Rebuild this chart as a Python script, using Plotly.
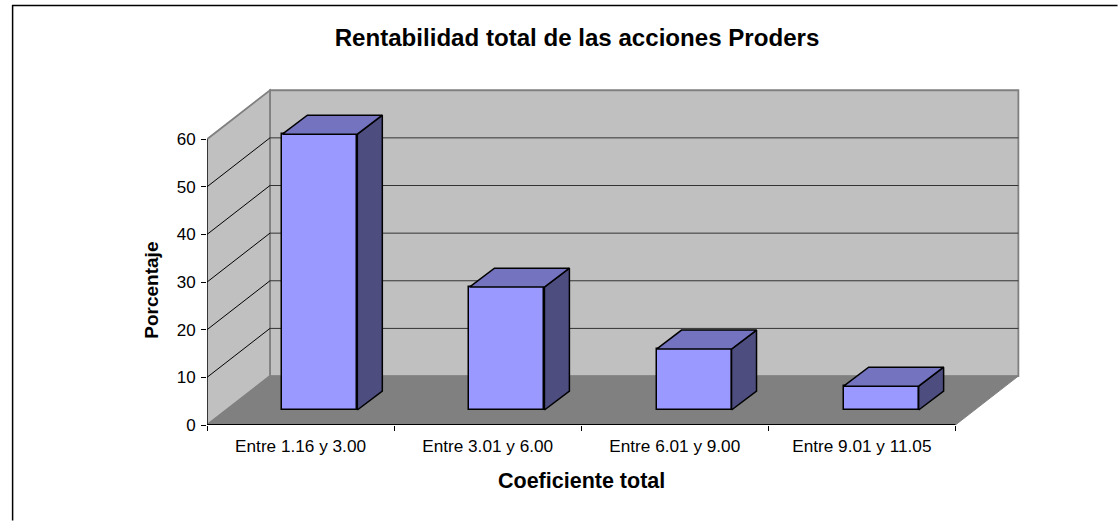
import plotly.graph_objects as go

categories = ["Entre 1.16 y 3.00", "Entre 3.01 y 6.00", "Entre 6.01 y 9.00", "Entre 9.01 y 11.05"]
values = [57.9, 25.8, 12.8, 5.0]
y_ticks = [0, 10, 20, 30, 40, 50, 60]
title_text = "Rentabilidad total de las acciones Proders"
x_title = "Coeficiente total"
y_title = "Porcentaje"

FONT = "Liberation Sans"
BAR, TOP, SIDE = "#9999FF", "#7373BF", "#4D4D80"
WALL, FLOOR, WALL_EDGE = "#C0C0C0", "#808080", "#808080"

W, H = 1118, 521
X0, Y0 = 207.0, 425.5          # pixel position of the data origin
PX_CAT, PX_UNIT = 187.2, 4.77  # pixels per category / per value unit
DEPTH_X, DEPTH_Y = 63 / PX_CAT, 49 / PX_UNIT
BAR_W = 75 / PX_CAT
BAR_DX, BAR_DY = 25 / PX_CAT, 19 / PX_UNIT
BASE_DX, BASE_DY = 19.3 / PX_CAT, 15 / PX_UNIT
N = len(categories)
Y_MAX = y_ticks[-1]
X_RANGE_TOP, Y_RANGE_TOP = N + 0.42, Y_MAX + 12


def path(points):
    return "M " + " L ".join(f"{x:.4f} {y:.4f}" for x, y in points) + " Z"


shapes = []
# back wall, side wall, floor
shapes.append(dict(type="path", path=path([(DEPTH_X, DEPTH_Y), (N + DEPTH_X, DEPTH_Y), (N + DEPTH_X, Y_MAX + DEPTH_Y), (DEPTH_X, Y_MAX + DEPTH_Y)]),
                   fillcolor=WALL, line=dict(color=WALL_EDGE, width=1.8), layer="below"))
shapes.append(dict(type="path", path=path([(0, 0), (DEPTH_X, DEPTH_Y), (DEPTH_X, Y_MAX + DEPTH_Y), (0, Y_MAX)]),
                   fillcolor=WALL, line=dict(color=WALL_EDGE, width=1.8), layer="below"))
shapes.append(dict(type="path", path=path([(0, 0), (N, 0), (N + DEPTH_X, DEPTH_Y), (DEPTH_X, DEPTH_Y)]),
                   fillcolor=FLOOR, line=dict(color=FLOOR, width=1), layer="below"))
# gridlines on walls
for v in y_ticks[1:-1]:
    shapes.append(dict(type="line", x0=DEPTH_X, x1=N + DEPTH_X, y0=v + DEPTH_Y, y1=v + DEPTH_Y,
                       line=dict(color="#333333", width=1), layer="below"))
    shapes.append(dict(type="line", x0=0, x1=DEPTH_X, y0=v, y1=v + DEPTH_Y,
                       line=dict(color="#000000", width=1), layer="below"))
for s in shapes:
    s.update(xref="x", yref="y")
# outer chart frame (open at the bottom and right like the picture)
def px_x(p):
    return (p - X0) / (X_RANGE_TOP * PX_CAT)
def px_y(p):
    return (Y0 - p) / (Y_RANGE_TOP * PX_UNIT)
shapes.append(dict(type="line", xref="paper", yref="paper", x0=px_x(12.5), x1=px_x(12.5), y0=px_y(5), y1=px_y(521),
                   line=dict(color="#000000", width=1.5), layer="above"))
shapes.append(dict(type="line", xref="paper", yref="paper", x0=px_x(12), x1=px_x(1118), y0=px_y(5.5), y1=px_y(5.5),
                   line=dict(color="#000000", width=1.5), layer="above"))

fig = go.Figure()
centers = [i + 0.5 + BASE_DX for i in range(N)]
fig.add_bar(x=centers, y=values, base=BASE_DY, width=BAR_W,
            marker=dict(color=BAR, line=dict(color="#000000", width=1.5)),
            showlegend=False, hoverinfo="skip")

for c, v in zip(centers, values):
    l, r = c - BAR_W / 2, c + BAR_W / 2
    b, t = BASE_DY, BASE_DY + v
    side = [(r, b), (r + BAR_DX, b + BAR_DY), (r + BAR_DX, t + BAR_DY), (r, t), (r, b)]
    top = [(l, t), (r, t), (r + BAR_DX, t + BAR_DY), (l + BAR_DX, t + BAR_DY), (l, t)]
    for pts, col in ((side, SIDE), (top, TOP)):
        fig.add_scatter(x=[p[0] for p in pts], y=[p[1] for p in pts], mode="lines", fill="toself",
                        fillcolor=col, line=dict(color="#000000", width=1.5),
                        showlegend=False, hoverinfo="skip")

# axis lines, limited to the front edge of the 3-D box
fig.add_scatter(x=[0, 0], y=[0, Y_MAX], mode="lines", line=dict(color="#000000", width=1.2),
                cliponaxis=False, showlegend=False, hoverinfo="skip")
fig.add_scatter(x=[0, N], y=[0, 0], mode="lines", line=dict(color="#000000", width=2),
                cliponaxis=False, showlegend=False, hoverinfo="skip")

fig.update_layout(
    width=W, height=H, autosize=False,
    margin=dict(l=X0, r=W - X0 - X_RANGE_TOP * PX_CAT, t=Y0 - Y_RANGE_TOP * PX_UNIT, b=H - Y0, pad=0),
    paper_bgcolor="#FFFFFF", plot_bgcolor="#FFFFFF",
    font=dict(family=FONT, size=17, color="#000000"),
    title=dict(text=f"<b>{title_text}</b>", x=577 / W, xanchor="center", y=1 - 38 / H, yanchor="middle",
               font=dict(family=FONT, size=24.1, color="#000000")),
    shapes=shapes,
    bargap=0,
    xaxis=dict(range=[0, X_RANGE_TOP], showgrid=False, zeroline=False, showline=False,
               tickmode="array", tickvals=[i + 0.5 for i in range(N)], ticktext=categories,
               ticks="", ticklen=0, ticklabelstandoff=9,
               tickfont=dict(family=FONT, size=17.2, color="#000000"),
               minor=dict(tickmode="array", tickvals=list(range(N + 1)), ticks="outside",
                          ticklen=5, tickwidth=1, tickcolor="#000000", showgrid=False)),
    yaxis=dict(range=[0, Y_RANGE_TOP], showgrid=False, zeroline=False, showline=False,
               tickmode="array", tickvals=y_ticks, ticks="outside", ticklen=5, tickwidth=1,
               ticklabelstandoff=2,
               tickcolor="#000000", tickfont=dict(family=FONT, size=17, color="#000000")),
    annotations=[
        dict(text=f"<b>{x_title}</b>", xref="x", yref="paper", x=2.0, y=px_y(482), xanchor="center", yanchor="middle",
             showarrow=False, font=dict(family=FONT, size=21.5, color="#000000")),
        dict(text=f"<b>{y_title}</b>", xref="paper", yref="y", x=px_x(152), y=28.2, xanchor="center", yanchor="middle",
             textangle=-90, showarrow=False, font=dict(family=FONT, size=19, color="#000000")),
    ],
)
fig.write_html("out.html", post_script="document.body.style.margin='0';", config=dict(displayModeBar=False))
